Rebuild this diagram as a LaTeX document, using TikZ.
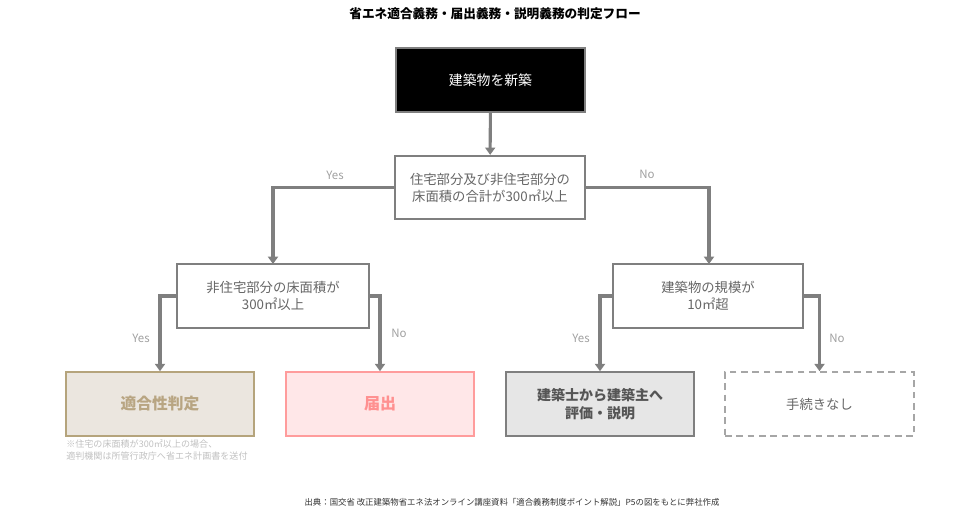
\documentclass[tikz,border=0pt]{standalone}
\usepackage{fontspec}
\setmainfont{Noto Sans CJK JP}
\usetikzlibrary{arrows.meta}
\definecolor{linegray}{HTML}{7F7F7F}
\definecolor{qtext}{HTML}{666666}
\definecolor{lbl}{HTML}{A0A0A0}
\definecolor{tekifill}{HTML}{EBE6DF}
\definecolor{tekidraw}{HTML}{B5A47C}
\definecolor{tekitext}{HTML}{B8A582}
\definecolor{todokefill}{HTML}{FFE7E8}
\definecolor{todokedraw}{HTML}{FF9C9C}
\definecolor{todoketext}{HTML}{FF9090}
\definecolor{setsufill}{HTML}{E6E6E6}
\definecolor{setsutext}{HTML}{555555}
\definecolor{nashidraw}{HTML}{A6A6A6}
\definecolor{notetext}{HTML}{C0C0C0}
\tikzset{
  qbox/.style={draw=linegray, line width=1.7pt, fill=white, text=qtext, align=center,
    minimum height=63*0.75pt, inner sep=0pt, font=\fontsize{10}{12.75}\selectfont},
  rbox/.style={line width=1.2pt, align=center, minimum width=188*0.75pt,
    minimum height=64*0.75pt, inner sep=0pt},
  conn/.style={draw=linegray, line width=2.3pt, -{Triangle[width=7.5pt,length=5.5pt]}},
  yn/.style={text=lbl, font=\fontsize{8.6}{10}\selectfont, inner sep=0pt},
}
\begin{document}
\begin{tikzpicture}[x=0.75pt,y=-0.75pt]
\useasboundingbox (0,0) rectangle (970,515);
\node[font=\bfseries\fontsize{9.5}{11}\selectfont, inner sep=0pt] (title) at (495,14) {省エネ適合義務・届出義務・説明義務の判定フロー};

\node[draw=linegray, line width=1pt, fill=black, text=white, minimum width=189*0.75pt,
  minimum height=64*0.75pt, inner sep=0pt, font=\fontsize{10.4}{12}\selectfont] (start) at (490.5,80) {建築物を新築};

\node[qbox, minimum width=190*0.75pt] (q1) at (490,187.5) {住宅部分及び非住宅部分の\\床面積の合計が300㎡以上};
\node[qbox, minimum width=192*0.75pt, minimum height=64*0.75pt] (q2) at (273,296) {非住宅部分の床面積が\\300㎡以上};
\node[qbox, minimum width=190*0.75pt, minimum height=64*0.75pt] (q3) at (708,296) {建築物の規模が\\10㎡超};

\node[rbox, draw=tekidraw, fill=tekifill, text=tekitext, font=\bfseries\fontsize{11.8}{14}\selectfont] (r1) at (160,404) {適合性判定};
\node[rbox, draw=todokedraw, fill=todokefill, text=todoketext, font=\bfseries\fontsize{12}{14}\selectfont] (r2) at (380,404) {届出};
\node[rbox, draw=linegray, fill=setsufill, text=setsutext, font=\bfseries\fontsize{10.5}{13.5}\selectfont] (r3) at (600,404) {建築士から建築主へ\\評価・説明};
\node[rbox, draw=nashidraw, dash pattern=on 5pt off 3.5pt, text=qtext, minimum width=189*0.75pt, font=\fontsize{10}{12}\selectfont] (r4) at (819.5,404) {手続きなし};

\coordinate (q2in) at (273,264);
\coordinate (q3in) at (709,264);
\draw[conn] (start) -- (q1);
\draw[conn] (q1.west) -| (q2in);
\draw[conn] (q1.east) -| (q3in);
\draw[conn] (q2.west) -| (r1.north);
\draw[conn] (q2.east) -| (r2.north);
\draw[conn] (q3.west) -| (r3.north);
\draw[conn] (q3.east) -| (r4.north);

\node[yn] (y1) at (335,175) {Yes};
\node[yn] (n1) at (647,174) {No};
\node[yn] (y2) at (141,338) {Yes};
\node[yn] (n2) at (399,333) {No};
\node[yn] (y3) at (581,338) {Yes};
\node[yn] (n3) at (837,338) {No};

\node[anchor=north west, align=left, text=notetext, inner sep=0pt,
  font=\fontsize{6.8}{9.6}\selectfont] (note) at (66,439) {※住宅の床面積が300㎡以上の場合、\\適判機関は所管行政庁へ省エネ計画書を送付};

\node[text=black!80, inner sep=0pt, font=\fontsize{6.3}{8}\selectfont] (src) at (512,502) {出典：国交省 改正建築物省エネ法オンライン講座資料「適合義務制度ポイント解説」P5の図をもとに弊社作成};
\end{tikzpicture}
\end{document}
